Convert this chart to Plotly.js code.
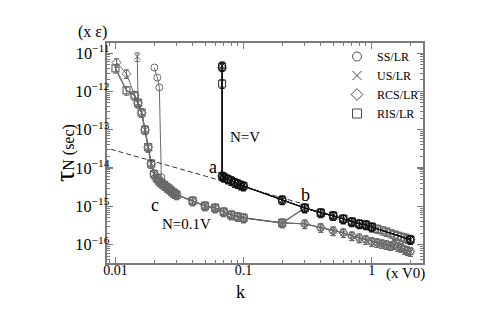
<!DOCTYPE html>
<html><head><meta charset="utf-8">
<script src="https://cdn.plot.ly/plotly-3.0.1.min.js"></script>
<style>html,body{margin:0;padding:0;background:#fff}#chart{width:479px;height:316px}</style>
</head><body><div id="chart"></div>
<script>
// ---- series names (legend) ----
const seriesNames = ['SS/LR', 'US/LR', 'RCS/LR', 'RIS/LR'];

// ---- N = 0.1V (grey) : steep heads of each series ----
const kGreyHeadSS = [0.0201, 0.0212, 0.0220, 0.0228];
const tauGreyHeadSS = [4.2e-12, 2.3e-12, 1.27e-12, 5.8e-15];
const kGreyHeadUS = [0.0148];
const tauGreyHeadUS = [8.1e-12];
const kGreyHeadRCS = [0.0102, 0.0122, 0.0141];
const tauGreyHeadRCS = [5.7e-12, 2.9e-12, 7.9e-13];
const kGreyHeadRIS = [0.0100, 0.0122, 0.0141];
const tauGreyHeadRIS = [4.0e-12, 1.06e-12, 7.9e-13];

// ---- N = 0.1V common part ----
const kGreyMid = [0.015, 0.016, 0.017, 0.018, 0.019, 0.020, 0.021, 0.022, 0.023, 0.024, 0.025, 0.026, 0.027, 0.028, 0.029, 0.030,
                  0.04, 0.05, 0.06, 0.07, 0.08, 0.09, 0.1, 0.2];
const tauGreyMid = [5.0e-13, 2.8e-13, 1.0e-13, 3.5e-14, 1.3e-14, 7.0e-15, 5.5e-15, 4.5e-15, 4.0e-15, 3.6e-15, 3.2e-15, 2.9e-15, 2.6e-15, 2.35e-15, 2.15e-15, 2.0e-15,
                    1.39e-15, 1.03e-15, 9.1e-16, 7.2e-16, 6.0e-16, 5.4e-16, 5.0e-16, 3.7e-16];
const kSSJoin = 0.0235;

// ---- N = 0.1V tails (k >= 0.3) ----
const kGreyTail = [0.3, 0.4, 0.5, 0.6, 0.7, 0.8, 0.9, 1.0, 1.1, 1.2, 1.3, 1.4, 1.5, 1.6, 1.7, 1.8, 1.9, 2.0];
const tauGreyLowTail = [3.5e-16, 2.8e-16, 2.3e-16, 2.05e-16, 1.7e-16, 1.5e-16, 1.35e-16, 1.2e-16, 1.13e-16, 1.06e-16, 1.0e-16, 9.4e-17, 1.0e-16, 8.9e-17, 8.4e-17, 7.4e-17, 7.0e-17, 6.6e-17];
const tauGreyRISTail = [9.1e-16, 6.8e-16, 5.7e-16, 4.7e-16, 3.95e-16, 3.5e-16, 3.3e-16, 2.9e-16, 2.6e-16, 2.38e-16, 2.18e-16, 1.99e-16, 1.82e-16, 1.71e-16, 1.61e-16, 1.52e-16, 1.43e-16, 1.35e-16];

// ---- N = V (black) ----
const kBlackHeadSS = [0.068];
const tauBlackHeadSS = [4.7e-12];
const kBlackHeadUS = [0.068];
const tauBlackHeadUS = [4.7e-12];
const kBlackHeadRCS = [0.068];
const tauBlackHeadRCS = [4.2e-12];
const kBlackHeadRIS = [0.068, 0.068];
const tauBlackHeadRIS = [4.4e-12, 1.6e-12];
const kBlackMid = [0.068, 0.07, 0.075, 0.08, 0.085, 0.09, 0.095, 0.1, 0.2, 0.3, 0.4, 0.5, 0.6, 0.7, 0.8, 0.9, 1.0, 2.0];
const tauBlackMid = [6.2e-15, 5.8e-15, 5.2e-15, 4.7e-15, 4.2e-15, 3.9e-15, 3.6e-15, 3.4e-15, 1.48e-15, 9.1e-16, 6.8e-16, 5.7e-16, 4.7e-16, 3.95e-16, 3.5e-16, 3.3e-16, 2.9e-16, 1.35e-16];

// ---- dashed guide line ----
const kFit = [0.0092, 0.3];
const tauFit = [3.1e-14, 1.13e-15];

// ---- axes ----
const xRangeLog = [-2.066, 0.400];
const yRangeLog = [-16.478, -10.736];

// ---------------------------------------------------------------
const GREY = '#6a6a6a', BLACK = '#111111', AXIS = '#7a7a7a';
const FONT = 'Liberation Serif, Times New Roman, serif';
const symbols = ['circle-open', 'x-thin-open', 'diamond-open', 'square-open'];

function idxFrom(arr, v) { return arr.findIndex(d => d >= v); }
const ssStart = idxFrom(kGreyMid, kSSJoin);

function tr(x, y, sym, color, lw, err, mlw) {
  const t = {
    x: x, y: y, type: 'scatter', mode: 'lines+markers', showlegend: false, hoverinfo: 'skip',
    line: {color: color, width: lw},
    marker: {symbol: sym, size: sym.startsWith('x') ? 6 : 7, color: color, line: {color: color, width: mlw || 1}}
  };
  if (err) t.error_y = {type: 'percent', value: 25, color: color, thickness: 1, width: 2.5};
  return t;
}

const data = [];
// grey N=0.1V
data.push(tr(kGreyHeadRIS.concat(kGreyMid, kGreyTail), tauGreyHeadRIS.concat(tauGreyMid, tauGreyRISTail), symbols[3], GREY, 1.4, true, 1.2));
data.push(tr(kGreyHeadRCS.concat(kGreyMid, kGreyTail), tauGreyHeadRCS.concat(tauGreyMid, tauGreyLowTail), symbols[2], GREY, 1.0, true));
data.push(tr(kGreyHeadSS.concat(kGreyMid.slice(ssStart), kGreyTail), tauGreyHeadSS.concat(tauGreyMid.slice(ssStart), tauGreyLowTail), symbols[0], GREY, 1.0, false));
data.push(tr(kGreyHeadUS.concat(kGreyMid, kGreyTail), tauGreyHeadUS.concat(tauGreyMid, tauGreyLowTail), symbols[1], GREY, 1.0, true));
// dashed guide
data.push({x: kFit, y: tauFit, type: 'scatter', mode: 'lines', showlegend: false, hoverinfo: 'skip',
  line: {color: '#333', width: 1, dash: '5px,3px'}});
// black N=V
data.push(tr(kBlackHeadRIS.concat(kBlackMid), tauBlackHeadRIS.concat(tauBlackMid), symbols[3], BLACK, 1.2, true, 0.9));
data.push(tr(kBlackHeadRCS.concat(kBlackMid), tauBlackHeadRCS.concat(tauBlackMid), symbols[2], BLACK, 1.0, false, 0.8));
data.push(tr(kBlackHeadSS.concat(kBlackMid), tauBlackHeadSS.concat(tauBlackMid), symbols[0], BLACK, 1.0, false, 0.8));
data.push(tr(kBlackHeadUS.concat(kBlackMid), tauBlackHeadUS.concat(tauBlackMid), symbols[1], BLACK, 1.0, true, 0.8));
// legend entries (no data points)
seriesNames.forEach((n, i) => {
  data.push({x: [null], y: [null], type: 'scatter', mode: 'markers', name: n, showlegend: true,
    marker: {symbol: symbols[i], size: 9, color: '#000', line: {color: '#000', width: 0.7}}});
});

const L = 107, R = 423, T = 43, B = 263;
const px = x => (x - L) / (R - L);
const py = y => (B - y) / (B - T);
function ann(text, x, y, size, extra) {
  return Object.assign({text: text, x: px(x), y: py(y), xref: 'paper', yref: 'paper', showarrow: false,
    xanchor: 'center', yanchor: 'middle', font: {family: FONT, size: size, color: '#000'}}, extra || {});
}

const axisCommon = {
  type: 'log', showline: true, linecolor: AXIS, linewidth: 2, mirror: 'allticks',
  ticks: 'inside', ticklen: 6, tickwidth: 1.2, tickcolor: AXIS, showgrid: false, zeroline: false,
  dtick: 1, tickfont: {family: FONT, size: 14, color: '#000'},
  minor: {ticks: 'inside', ticklen: 3, tickwidth: 1, tickcolor: AXIS, dtick: 'D1', showgrid: false}
};

const layout = {
  width: 479, height: 316,
  margin: {l: L, r: 479 - R, t: T, b: 316 - B},
  paper_bgcolor: '#fff', plot_bgcolor: '#fff',
  font: {family: FONT, color: '#000'},
  xaxis: Object.assign({}, axisCommon, {range: xRangeLog, exponentformat: 'none', ticklabelstandoff: -7}),
  yaxis: Object.assign({}, axisCommon, {range: yRangeLog, exponentformat: 'power', ticklabelstandoff: -7,
    tickfont: {family: FONT, size: 13, color: '#000'}}),
  showlegend: true,
  legend: {x: px(337), y: py(42), xanchor: 'left', yanchor: 'top', bgcolor: 'rgba(0,0,0,0)',
    font: {family: FONT, size: 12, color: '#000'}},
  annotations: [
    ann('(x ε)', 92, 32, 16),
    ann('(x V0)', 405, 273, 15),
    ann('k', 240, 292, 18),
    ann('<span style="font-size:28px">τ</span>N (sec)', 64, 153, 16, {textangle: -90}),
    ann('a', 213, 167, 18),
    ann('b', 305, 195, 18),
    ann('c', 155, 205, 18),
    ann('N=V', 245, 137, 15),
    ann('N=0.1V', 186, 224, 15)
  ]
};

Plotly.newPlot('chart', data, layout, {displayModeBar: false, staticPlot: true});
</script>
</body></html>
